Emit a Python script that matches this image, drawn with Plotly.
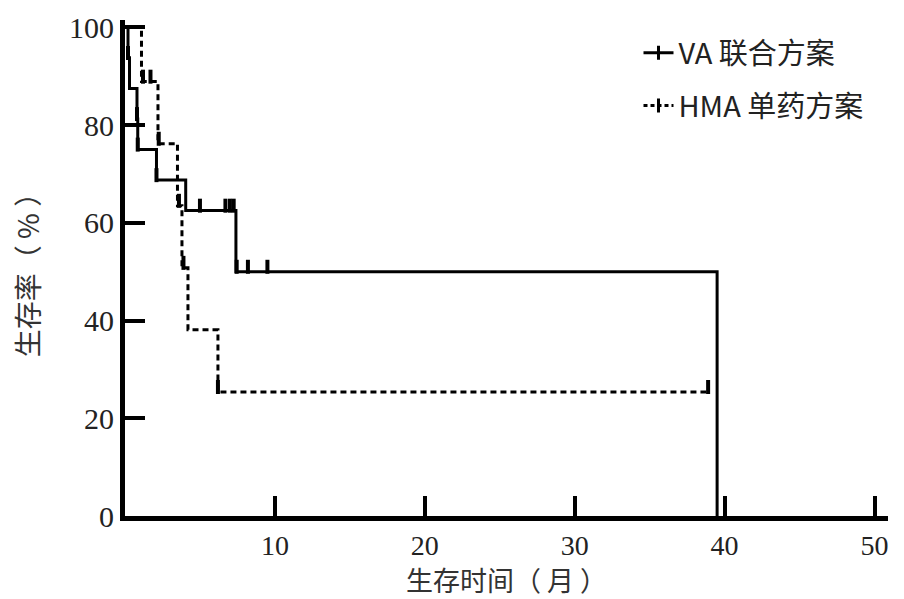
import plotly.graph_objects as go

# ---- data ----
# VA combination regimen: step points (time in months, survival %)
va_time = [0, 0.2, 0.3, 0.8, 0.85, 2.1, 4.05, 7.4, 39.5]
va_surv = [100, 93.75, 87.5, 81.25, 75, 68.75, 62.5, 50, 0]
# VA censored observations
va_cens_time = [0.2, 0.8, 0.85, 2.1, 5.0, 6.7, 7.0, 7.25, 7.45, 8.2, 9.5]
va_cens_surv = [93.75, 81.25, 75, 68.75, 62.5, 62.5, 62.5, 62.5, 50, 50, 50]

# HMA monotherapy regimen
hma_time = [0, 1.1, 2.2, 3.5, 3.8, 4.2, 6.2, 39.0]
hma_surv = [100, 88.9, 76.2, 63.5, 50.8, 38.1, 25.4, 25.4]
hma_cens_time = [1.2, 1.7, 2.25, 3.6, 3.9, 6.2, 38.9]
hma_cens_surv = [88.9, 88.9, 76.2, 63.5, 50.8, 25.4, 25.4]

x_ticks = [10, 20, 30, 40, 50]
y_ticks = [0, 20, 40, 60, 80, 100]

labels = ["VA 联合方案", "HMA 单药方案"]
x_title = "生存时间（ 月 ）"
y_title = "生存率（ % ）"

# ---- style ----
FONT = "Liberation Serif, Times New Roman, Noto Sans CJK SC, serif"
CJK = "Noto Sans CJK SC, Liberation Serif, serif"
BLACK = "#000000"
LIFT = 1.0  # censor ticks sit just above the curve

fig = go.Figure()

fig.add_trace(go.Scatter(
    x=va_time, y=va_surv, mode="lines", line_shape="hv",
    line=dict(color=BLACK, width=3), showlegend=False, hoverinfo="skip"))
fig.add_trace(go.Scatter(
    x=va_cens_time, y=[v + LIFT for v in va_cens_surv], mode="markers",
    marker=dict(symbol="line-ns", size=10, line=dict(color=BLACK, width=4)),
    showlegend=False, hoverinfo="skip"))

fig.add_trace(go.Scatter(
    x=hma_time, y=hma_surv, mode="lines", line_shape="hv",
    line=dict(color=BLACK, width=3, dash="6px,4px"), showlegend=False, hoverinfo="skip"))
fig.add_trace(go.Scatter(
    x=hma_cens_time, y=[v + LIFT for v in hma_cens_surv], mode="markers",
    marker=dict(symbol="line-ns", size=10, line=dict(color=BLACK, width=4)),
    showlegend=False, hoverinfo="skip"))

# legend entries
fig.add_trace(go.Scatter(
    x=[None], y=[None], mode="lines+markers", name=labels[0], legendgroup="a",
    line=dict(color=BLACK, width=3),
    marker=dict(symbol="line-ns", size=10, line=dict(color=BLACK, width=3))))
fig.add_trace(go.Scatter(
    x=[None], y=[None], mode="lines+markers", name=labels[1], legendgroup="b",
    line=dict(color=BLACK, width=3, dash="4px,3px"),
    marker=dict(symbol="line-ns", size=10, line=dict(color=BLACK, width=3))))

fig.update_layout(
    width=904, height=599,
    margin=dict(l=125, r=16, t=20, b=83),
    paper_bgcolor="white", plot_bgcolor="white",
    font=dict(family=FONT, size=28, color=BLACK),
    legend=dict(x=0.673, y=0.985, xanchor="left", yanchor="top",
                bgcolor="rgba(0,0,0,0)", tracegroupgap=12,
                font=dict(family=CJK, size=29, color="#222")),
    xaxis=dict(range=[0, 50.9], tickvals=x_ticks, ticktext=[str(v) for v in x_ticks],
               ticks="inside", ticklen=20, tickwidth=4, tickcolor=BLACK,
               showline=True, linewidth=5, linecolor=BLACK,
               showgrid=False, zeroline=False, automargin=False,
               tickfont=dict(family=FONT, size=28, color="#222"),
               title=dict(text=x_title, standoff=4,
                          font=dict(family=CJK, size=27, color="#333"))),
    yaxis=dict(range=[0, 101.5], tickvals=y_ticks, ticktext=[str(v) for v in y_ticks],
               ticks="inside", ticklen=20, tickwidth=4, tickcolor=BLACK,
               showline=True, linewidth=5, linecolor=BLACK,
               showgrid=False, zeroline=False, automargin=False,
               tickfont=dict(family=FONT, size=30, color="#222"),
               title=dict(text=y_title, standoff=23,
                          font=dict(family=CJK, size=28, color="#333"))),
)

fig.write_html("out.html", config={"displayModeBar": False},
               post_script="document.body.style.margin='0';")
